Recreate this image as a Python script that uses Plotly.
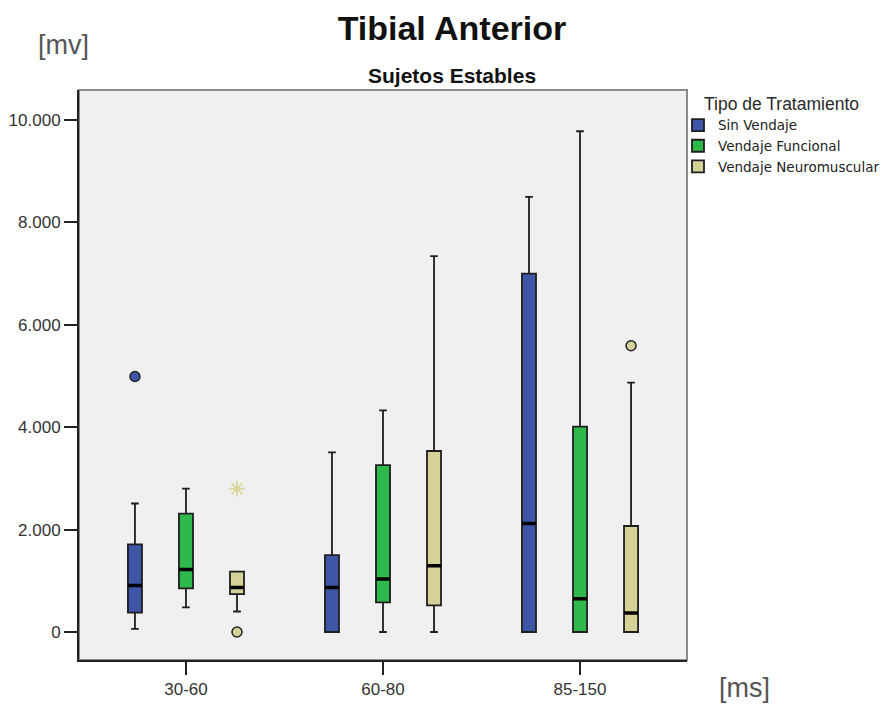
import plotly.graph_objects as go

categories = ['30-60', '60-80', '85-150']

series_names = ['Sin Vendaje', 'Vendaje Funcional', 'Vendaje Neuromuscular']

sin_lower = [60, 0, 0]
sin_q1 = [380, 0, 0]
sin_median = [910, 870, 2120]
sin_q3 = [1710, 1500, 7000]
sin_upper = [2510, 3510, 8500]
sin_outliers = [[4990], [], []]

fun_lower = [480, 0, 0]
fun_q1 = [850, 580, 0]
fun_median = [1220, 1035, 650]
fun_q3 = [2310, 3260, 4010]
fun_upper = [2800, 4330, 9780]
fun_outliers = None  # no outliers

neu_lower = [400, 0, 0]
neu_q1 = [740, 520, 0]
neu_median = [870, 1295, 370]
neu_q3 = [1180, 3535, 2070]
neu_upper = [1180, 7340, 4870]
neu_outliers = [[0], [], [5590]]

neu_extreme_cat = ['30-60']
neu_extreme_val = [2800]

y_ticks = [0, 2000, 4000, 6000, 8000, 10000]

colors = ['#3e56a6', '#2fb84b', '#d5d197']
FONT = 'Liberation Sans, Arial, sans-serif'

fig = go.Figure()

stats = [
    (sin_lower, sin_q1, sin_median, sin_q3, sin_upper, sin_outliers),
    (fun_lower, fun_q1, fun_median, fun_q3, fun_upper, fun_outliers),
    (neu_lower, neu_q1, neu_median, neu_q3, neu_upper, neu_outliers),
]
groups = ['a', 'b', 'c']

for name, col, grp, (lo, q1, med, q3, up, outl) in zip(series_names, colors, groups, stats):
    kw = dict(y=outl) if outl is not None else {}
    fig.add_trace(go.Box(
        name=name, x=categories,
        q1=q1, median=med, q3=q3, lowerfence=lo, upperfence=up,
        boxpoints='outliers', pointpos=0, jitter=0,
        fillcolor=col,
        line=dict(color='#1e1e1e', width=1.8),
        whiskerwidth=0.55,
        marker=dict(color=col, size=10, symbol='circle',
                    line=dict(color='#222222', width=1.5)),
        offsetgroup=grp, alignmentgroup='g',
        hoverinfo='skip', **kw,
    ))

# thicker median lines (degenerate boxes at the median, same slot)
for name, grp, (lo, q1, med, q3, up, outl) in zip(series_names, groups, stats):
    fig.add_trace(go.Box(
        name=name + ' mediana', x=categories,
        q1=med, median=med, q3=med, lowerfence=med, upperfence=med,
        boxpoints=False, fillcolor='rgba(0,0,0,0)',
        line=dict(color='#000000', width=3.5), whiskerwidth=0,
        offsetgroup=grp, alignmentgroup='g', showlegend=False, hoverinfo='skip',
    ))

# extreme value (asterisk) of Vendaje Neuromuscular
fig.add_trace(go.Box(
    name='extremo', x=neu_extreme_cat, y=[[v] for v in neu_extreme_val],
    q1=neu_extreme_val, median=neu_extreme_val, q3=neu_extreme_val,
    lowerfence=neu_extreme_val, upperfence=neu_extreme_val,
    boxpoints='all', pointpos=0, jitter=0,
    fillcolor='rgba(0,0,0,0)', line=dict(color='rgba(0,0,0,0)', width=0),
    marker=dict(symbol='asterisk-open', size=13, color='#dcd8a4',
                line=dict(color='#dcd8a4', width=2)),
    offsetgroup='c', alignmentgroup='g', showlegend=False, hoverinfo='skip',
))

fig.update_layout(
    width=881, height=705,
    margin=dict(l=79, r=194, t=90, b=45, autoexpand=False),
    paper_bgcolor='white', plot_bgcolor='#f0f0f0',
    boxmode='group', boxgap=0.223, boxgroupgap=0.725,
    separators=',.',
    font=dict(family=FONT, color='#333333', size=17),
    title=dict(text='<b>Tibial Anterior</b>', x=0.513, xref='container', xanchor='center',
               y=1 - 28 / 705, yref='container', yanchor='middle',
               font=dict(family=FONT, size=34, color='#111111')),
    legend=dict(
        title=dict(text='Tipo de Tratamiento', side='top center',
                   font=dict(family=FONT, size=17.5, color='#2a2a2a')),
        x=(678 - 79) / 608, xanchor='left', y=1.005, yanchor='top',
        font=dict(family='DejaVu Sans, sans-serif', size=13.5, color='#222222'),
        bgcolor='rgba(0,0,0,0)', itemwidth=30, tracegroupgap=0,
    ),
    xaxis=dict(
        range=[-0.543, 2.543], showgrid=False, zeroline=False,
        showline=True, linecolor='#222222', linewidth=2,
        ticks='outside', ticklen=13, tickwidth=2, tickcolor='#222222',
        tickfont=dict(family=FONT, size=17, color='#333333'),
    ),
    yaxis=dict(
        range=[-547, 10586], showgrid=False, zeroline=False,
        showline=True, linecolor='#222222', linewidth=2,
        ticks='outside', ticklen=13, tickwidth=2, tickcolor='#222222',
        tickvals=y_ticks, tickformat=',d',
        tickfont=dict(family=FONT, size=17, color='#333333'),
    ),
    shapes=[dict(type='rect', xref='paper', yref='paper', x0=0, x1=1, y0=0, y1=1,
                 line=dict(color='#8a8a8a', width=2), layer='below')],
    annotations=[
        dict(text='<b>Sujetos Estables</b>', xref='paper', yref='paper',
             x=0.6135, y=(660 - 76) / 570, xanchor='center', yanchor='middle',
             showarrow=False, font=dict(family=FONT, size=21, color='#111111')),
        dict(text='[mv]', xref='paper', yref='paper', x=-0.0247, y=(660 - 45) / 570,
             xanchor='center', yanchor='middle', showarrow=False,
             font=dict(family=FONT, size=27, color='#555555')),
        dict(text='[ms]', xref='paper', yref='paper', x=1.095, y=(660 - 688) / 570,
             xanchor='center', yanchor='middle', showarrow=False,
             font=dict(family=FONT, size=27, color='#555555')),
    ],
)

fig.write_html('out.html')
